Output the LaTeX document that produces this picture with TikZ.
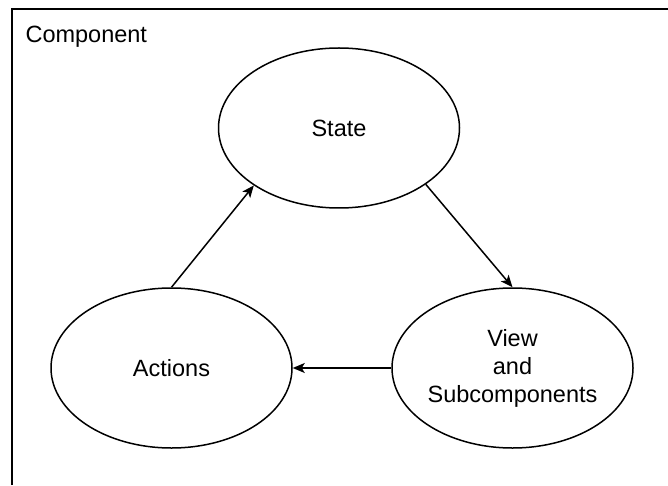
\documentclass[tikz,border=0pt]{standalone}
\usepackage{fontspec}
\setmainfont{Liberation Sans}
\usepackage{tikz}
\usetikzlibrary{arrows.meta}
\usetikzlibrary{shapes.geometric}
\tikzset{blob/.style={draw,ellipse,line width=1.5pt,inner sep=0pt,
                      minimum width=241pt,minimum height=160pt,
                      align=center,font=\fontsize{23.5}{28}\selectfont},
         flow/.style={line width=1.5pt,-{Stealth[length=12pt,width=10pt,inset=3pt]}}}

\begin{document}
\begin{tikzpicture}[x=1pt,y=1pt]
\useasboundingbox (0,0) rectangle (668,485);
\draw[line width=2.2pt] (12,0)--(12,476)--(668,476);
\node[anchor=base west,font=\fontsize{23.5}{28}\selectfont] (title) at (22,442) {Component};
\node[blob] (state) at (339,357) {State};
\node[blob] (actions) at (171.5,117) {Actions};
\node[blob] (view) at (512.5,117) {View\\and\\Subcomponents};
\draw[flow] (actions.north) -- (state.-146);
\draw[flow] (state.-33) -- (view.north);
\draw[flow] (view.west) -- (actions.east);
\end{tikzpicture}
\end{document}
